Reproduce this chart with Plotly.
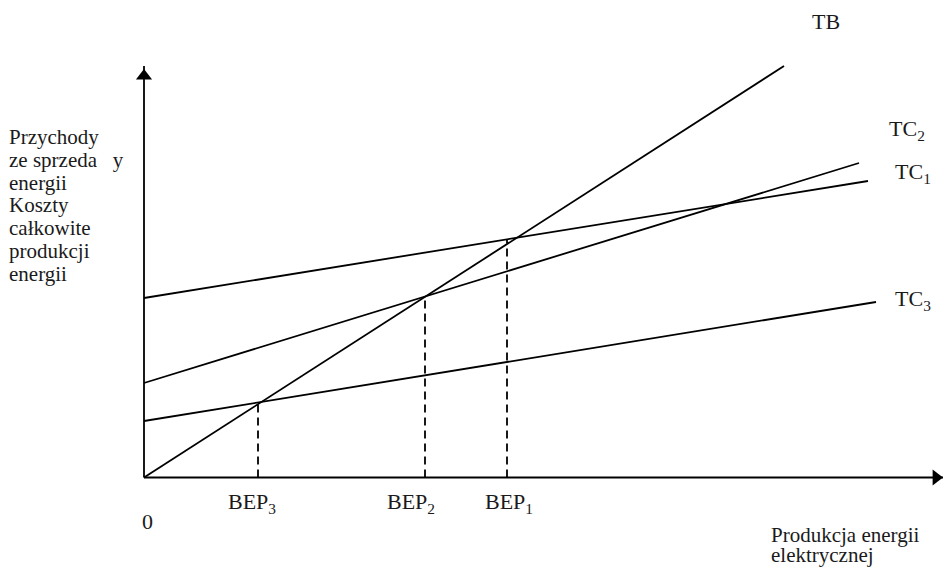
import math
import plotly.graph_objects as go

# ---- data (units: arbitrary, origin at axes intersection) ----
series_names = ["TB", "TC1", "TC2", "TC3"]
x_start = [0.0, 0.0, 0.0, 0.0]
x_end = [64.0, 72.4, 71.5, 73.2]
y_start = [0.0, 17.95, 9.45, 5.65]
y_end = [41.15, 29.65, 31.45, 17.55]

bep_labels = ["BEP<sub>3</sub>", "BEP<sub>2</sub>", "BEP<sub>1</sub>"]
bep_x = [11.4, 28.1, 36.3]
bep_y = [7.55, 18.05, 23.75]

series_labels = ["TB", "TC<sub>1</sub>", "TC<sub>2</sub>", "TC<sub>3</sub>"]

y_label_lines = ["Przychody", "ze sprzeda\u00a0\u00a0\u00a0y", "energii", "Koszty",
                 "całkowite", "produkcji", "energii"]
x_label_lines = ["Produkcja energii", "elektrycznej"]
origin_label = "0"

# ---- layout constants ----
W, H = 943, 568
X_RANGE = [-14.4, 79.9]
Y_RANGE = [-9.05, 47.75]
Y_AXIS_TOP = 41.15
X_AXIS_END = 80.2
FONT = "Liberation Serif, Times New Roman, serif"
FS = 22
FS_SMALL = 21
LW = 1.8
ARROW_SIZE = 14

px_per_x = W / (X_RANGE[1] - X_RANGE[0])
px_per_y = H / (Y_RANGE[1] - Y_RANGE[0])
r = ARROW_SIZE / 2
tip_off = r * math.sqrt(2)

fig = go.Figure()

# axes
fig.add_trace(go.Scatter(x=[0, 0], y=[0, Y_AXIS_TOP], mode="lines",
                         line=dict(color="black", width=LW), hoverinfo="skip"))
fig.add_trace(go.Scatter(x=[0, X_AXIS_END], y=[0, 0], mode="lines",
                         line=dict(color="black", width=LW), hoverinfo="skip"))
fig.add_trace(go.Scatter(x=[0], y=[Y_AXIS_TOP - tip_off / px_per_y], mode="markers",
                         marker=dict(symbol="triangle-up", size=ARROW_SIZE, color="black",
                                     line=dict(width=0)), hoverinfo="skip"))
fig.add_trace(go.Scatter(x=[X_AXIS_END - tip_off / px_per_x], y=[0], mode="markers",
                         marker=dict(symbol="triangle-right", size=ARROW_SIZE, color="black",
                                     line=dict(width=0)), hoverinfo="skip"))

# revenue / cost lines
for i, name in enumerate(series_names):
    fig.add_trace(go.Scatter(x=[x_start[i], x_end[i]], y=[y_start[i], y_end[i]],
                             mode="lines", name=name,
                             line=dict(color="black", width=LW), hoverinfo="skip"))

# break-even dashed drops
for i in range(len(bep_x)):
    fig.add_trace(go.Scatter(x=[bep_x[i], bep_x[i]], y=[0, bep_y[i]], mode="lines",
                             line=dict(color="black", width=LW, dash="8px,5px"),
                             hoverinfo="skip"))


def P(px, py):
    return dict(xref="paper", yref="paper", x=px / W, y=1 - py / H)


annos = []
tf = dict(family=FONT, size=FS, color="#1a1a1a")
tfs = dict(family=FONT, size=FS_SMALL, color="#1a1a1a")

# series labels (left edge, vertical centre in pixels)
label_pos = [(810, 21), (893, 173), (887, 130), (893, 300)]
for lab, (px, py) in zip(series_labels, label_pos):
    annos.append(dict(text=lab, showarrow=False, font=tf, xanchor="left",
                      yanchor="middle", **P(px, py)))

# BEP labels
bep_pos = [(226, 503), (385, 503), (483, 503)]
for lab, (px, py) in zip(bep_labels, bep_pos):
    annos.append(dict(text=lab, showarrow=False, font=tf, xanchor="left",
                      yanchor="middle", **P(px, py)))

annos.append(dict(text=origin_label, showarrow=False, font=tf, xanchor="center",
                  yanchor="middle", **P(147, 521)))

# y-axis title, one annotation per line
for k, line in enumerate(y_label_lines):
    annos.append(dict(text=line, showarrow=False, font=tfs, xanchor="left",
                      yanchor="middle", **P(7, 137 + 22.8 * k)))

# x-axis title
for k, line in enumerate(x_label_lines):
    annos.append(dict(text=line, showarrow=False, font=tfs, xanchor="left",
                      yanchor="middle", **P(769, 535 + 20 * k)))

fig.update_layout(
    width=W, height=H, margin=dict(l=0, r=0, t=0, b=0),
    paper_bgcolor="white", plot_bgcolor="white", showlegend=False,
    xaxis=dict(range=X_RANGE, visible=False, fixedrange=True),
    yaxis=dict(range=Y_RANGE, visible=False, fixedrange=True),
    annotations=annos,
)

fig.write_html("out.html", config={"displayModeBar": False})

# remove default page margin so the figure sits at the window's top-left corner
with open("out.html", "r", encoding="utf-8") as f:
    html = f.read()
html = html.replace("<body>", '<body style="margin:0;padding:0;overflow:hidden">', 1)
with open("out.html", "w", encoding="utf-8") as f:
    f.write(html)
